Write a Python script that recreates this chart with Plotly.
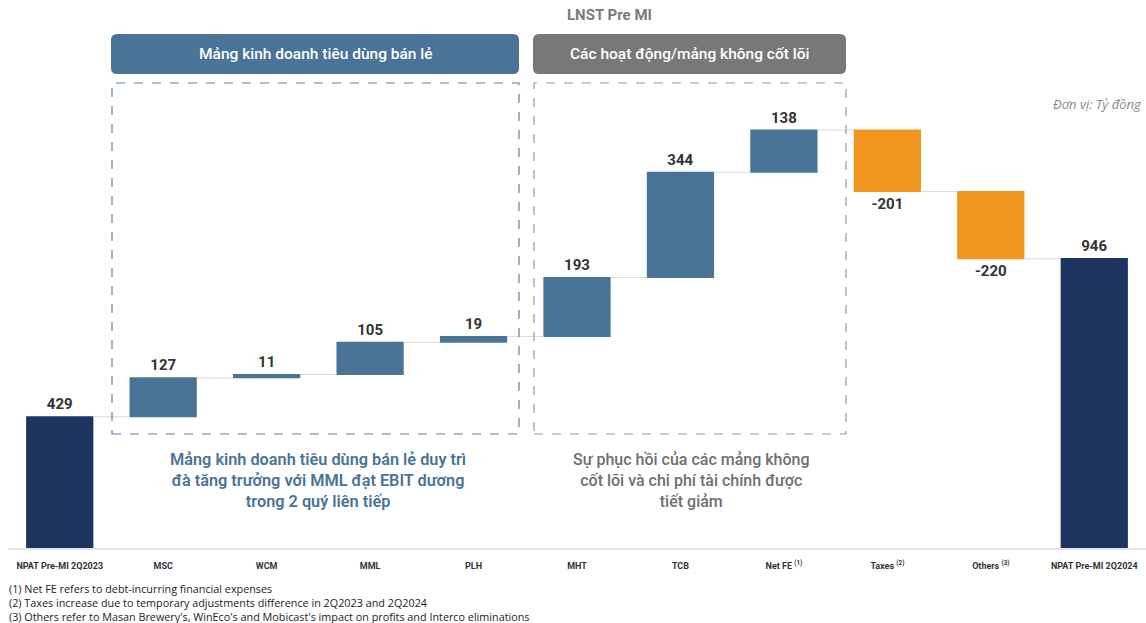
import plotly.graph_objects as go

# ---- data ----
categories = ["NPAT Pre-MI 2Q2023", "MSC", "WCM", "MML", "PLH", "MHT", "TCB",
              "Net FE", "Taxes", "Others", "NPAT Pre-MI 2Q2024"]
tick_labels = ["NPAT Pre-MI 2Q2023", "MSC", "WCM", "MML", "PLH", "MHT", "TCB",
               "Net FE <sup>(1)</sup>", "Taxes <sup>(2)</sup>", "Others <sup>(3)</sup>",
               "NPAT Pre-MI 2Q2024"]
values = [429, 127, 11, 105, 19, 193, 344, 138, -201, -220, 946]
measures = ["absolute", "relative", "relative", "relative", "relative", "relative",
            "relative", "relative", "relative", "relative", "absolute"]
footnotes = [
    "(1) Net FE refers to debt-incurring financial expenses",
    "(2) Taxes increase due to temporary adjustments difference in 2Q2023 and 2Q2024",
    "(3) Others refer to Masan Brewery's, WinEco's and Mobicast's impact on profits and Interco eliminations",
]

NAVY = "#1d3461"
STEEL = "#4a7398"
ORANGE = "#f0961e"
GRAY = "#787878"

W, H = 1146, 623
# plot area in screenshot pixels
L, R, T, B = 8, 1146, 30, 548

def px(x):
    return (x - L) / (R - L)

def py(y):
    return (B - y) / (B - T)

def rounded(x0, y0, x1, y1, r=6):
    rx = r / (R - L)
    ry = r / (B - T)
    X0, X1 = px(x0), px(x1)
    Y0, Y1 = py(y1), py(y0)  # bottom, top
    return (f"M {X0+rx},{Y0} L {X1-rx},{Y0} Q {X1},{Y0} {X1},{Y0+ry} "
            f"L {X1},{Y1-ry} Q {X1},{Y1} {X1-rx},{Y1} L {X0+rx},{Y1} "
            f"Q {X0},{Y1} {X0},{Y1-ry} L {X0},{Y0+ry} Q {X0},{Y0} {X0+rx},{Y0} Z")

fig = go.Figure(go.Waterfall(
    x=categories,
    y=values,
    measure=measures,
    text=[str(v) for v in values],
    textposition="outside",
    textfont=dict(family="Roboto", size=15, color="#333333", weight="bold"),
    width=0.65,
    increasing=dict(marker=dict(color=STEEL)),
    decreasing=dict(marker=dict(color=ORANGE)),
    totals=dict(marker=dict(color=NAVY)),
    connector=dict(line=dict(color="#dcdcdc", width=1)),
    cliponaxis=False,
    showlegend=False,
))

shapes = [
    dict(type="path", xref="paper", yref="paper", path=rounded(111, 34, 519, 74),
         fillcolor=STEEL, line=dict(width=0), layer="above"),
    dict(type="path", xref="paper", yref="paper", path=rounded(533, 34, 846, 74),
         fillcolor=GRAY, line=dict(width=0), layer="above"),
    dict(type="rect", xref="paper", yref="paper", x0=px(112), x1=px(519), y0=py(434), y1=py(83),
         line=dict(color="#5b84ad", width=1.2, dash="dash"), fillcolor="rgba(0,0,0,0)"),
    dict(type="rect", xref="paper", yref="paper", x0=px(534), x1=px(846), y0=py(434), y1=py(83),
         line=dict(color="#9a9a9a", width=1.2, dash="dash"), fillcolor="rgba(0,0,0,0)"),
]

def ann(text, x, y, font, xanchor="center", yanchor="middle", align="center"):
    return dict(text=text, x=px(x), y=py(y), xref="paper", yref="paper",
                xanchor=xanchor, yanchor=yanchor, align=align, showarrow=False, font=font)

annotations = [
    ann("<b>LNST Pre MI</b>", 609, 15, dict(family="Roboto", size=15, color="#7a7a7a")),
    ann("Mảng kinh doanh tiêu dùng bán lẻ", 316, 54,
        dict(family="Roboto", size=15.5, color="white", weight=500)),
    ann("Các hoạt động/mảng không cốt lõi", 690, 54,
        dict(family="Roboto", size=15.5, color="white", weight=500)),
    ann("<i>Đơn vị: Tỷ đồng</i>", 1144, 104,
        dict(family="Open Sans", size=13, color="#8a8a8a"), xanchor="right"),
    ann("Mảng kinh doanh tiêu dùng bán lẻ duy trì<br>đà tăng trưởng với MML đạt EBIT dương<br>trong 2 quý liên tiếp",
        318, 480, dict(family="Roboto", size=16.3, color=STEEL, weight=600)),
    ann("Sự phục hồi của các mảng không<br>cốt lõi và chi phí tài chính được<br>tiết giảm",
        691, 480, dict(family="Roboto", size=16, color="#6f6f6f", weight=500)),
    ann("<br>".join(footnotes), 7, 602,
        dict(family="Open Sans", size=10.8, color="#222222"),
        xanchor="left", align="left"),
]

fig.update_layout(
    width=W, height=H,
    margin=dict(l=L, r=W - R, t=T, b=H - B),
    paper_bgcolor="white", plot_bgcolor="white",
    shapes=shapes, annotations=annotations,
    xaxis=dict(tickvals=categories, ticktext=tick_labels, showgrid=False,
               showline=True, linecolor="#e3e3e3", linewidth=1.5,
               tickfont=dict(family="Roboto", size=9, color="#333333", weight="bold"),
               ticklabelstandoff=8, range=[-0.5, 10.5]),
    yaxis=dict(range=[0, (B - T) / 0.306], visible=False, showgrid=False),
)

fig.write_html("out.html", config={"displayModeBar": False},
               post_script="document.body.style.margin='0';document.body.style.overflow='hidden';")
